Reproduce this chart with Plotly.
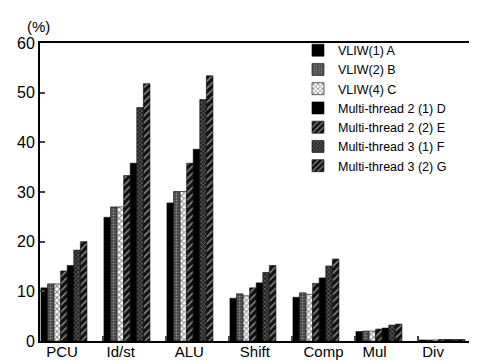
import numpy as np
import plotly.graph_objects as go

categories = ["PCU", "Id/st", "ALU", "Shift", "Comp", "Mul", "Div"]
vliw1_A = [10.7, 24.9, 27.8, 8.6, 8.8, 1.9, 0.2]
vliw2_B = [11.5, 27.0, 30.1, 9.5, 9.7, 2.0, 0.2]
vliw4_C = [11.5, 27.0, 30.1, 9.1, 9.4, 2.0, 0.2]
mt2_1_D = [15.2, 35.8, 38.6, 11.7, 12.7, 2.6, 0.3]
mt2_2_E = [14.1, 33.3, 35.8, 10.7, 11.6, 2.4, 0.3]
mt3_1_F = [18.3, 47.0, 48.6, 13.8, 15.1, 3.2, 0.3]
mt3_2_G = [20.0, 51.8, 53.4, 15.2, 16.5, 3.4, 0.3]
y_ticks = [0, 10, 20, 30, 40, 50, 60]

FONT = "Liberation Sans, Arial, sans-serif"

xc = np.arange(len(categories)) + 0.38
label_pos = xc + np.array([-0.03, -0.1, -0.01, 0.03, 0.12, -0.07, -0.14])

# (name, values, pattern, legendrank) in visual bar order
series = [
    ("VLIW(1) A", vliw1_A, dict(shape="", bgcolor="black"), 1, "black"),
    ("VLIW(2) B", vliw2_B, dict(shape=".", bgcolor="#444", fgcolor="#cfcfcf", size=3, solidity=0.35), 2, "#777"),
    ("VLIW(4) C", vliw4_C, dict(shape="x", bgcolor="white", fgcolor="#111", size=4, solidity=0.45), 3, "#999"),
    ("Multi-thread 2 (2) E", mt2_2_E, dict(shape="/", bgcolor="#111", fgcolor="white", size=5, solidity=0.3), 5, "#333"),
    ("Multi-thread 2 (1) D", mt2_1_D, dict(shape="", bgcolor="black"), 4, "black"),
    ("Multi-thread 3 (1) F", mt3_1_F, dict(shape="x", bgcolor="#222", fgcolor="#bbb", size=3, solidity=0.4), 6, "#444"),
    ("Multi-thread 3 (2) G", mt3_2_G, dict(shape="/", bgcolor="#111", fgcolor="white", size=5, solidity=0.3), 7, "#333"),
]

fig = go.Figure()
for name, vals, pat, rank, col in series:
    fig.add_trace(go.Bar(
        x=xc, y=vals, name=name, legendrank=rank,
        marker=dict(color=col, pattern=pat, line=dict(color="black", width=0.6)),
    ))

# category labels on an overlaid axis
fig.add_trace(go.Scatter(x=[0, 7], y=[0, 0], xaxis="x2", mode="markers",
                         marker=dict(opacity=0), showlegend=False, hoverinfo="skip"))

fig.update_layout(
    width=477, height=364,
    margin=dict(l=32, r=2, t=35, b=31),
    paper_bgcolor="white", plot_bgcolor="white",
    barmode="group", bargap=0.27, bargroupgap=0,
    font=dict(family=FONT, color="black"),
    xaxis=dict(range=[0, 7], tickvals=list(range(8)), ticktext=[""] * 8,
               ticks="inside", ticklen=5, tickwidth=1.5, showline=True,
               linecolor="black", linewidth=1.8, mirror=True, showgrid=False,
               zeroline=False),
    xaxis2=dict(range=[0, 7], overlaying="x", side="bottom", tickvals=list(label_pos),
                ticktext=categories, ticks="", showgrid=False, showline=False,
                zeroline=False, tickfont=dict(size=15, family=FONT)),
    yaxis=dict(range=[0, 60], tickvals=y_ticks, ticks="inside", ticklen=5,
               tickwidth=1.5, showline=True, linecolor="black", linewidth=1.8,
               mirror=True, showgrid=False, zeroline=False,
               tickfont=dict(size=16, family=FONT)),
    legend=dict(x=0.585, y=1.025, xanchor="left", yanchor="top",
                bgcolor="rgba(0,0,0,0)", font=dict(size=12.5, family=FONT),
                tracegroupgap=0, itemwidth=30),
    annotations=[dict(text="(%)", xref="paper", yref="paper", x=-0.035, y=1.0,
                      yshift=6, xanchor="left", yanchor="bottom", showarrow=False,
                      font=dict(size=15, family=FONT))],
)

fig.write_html("out.html")
